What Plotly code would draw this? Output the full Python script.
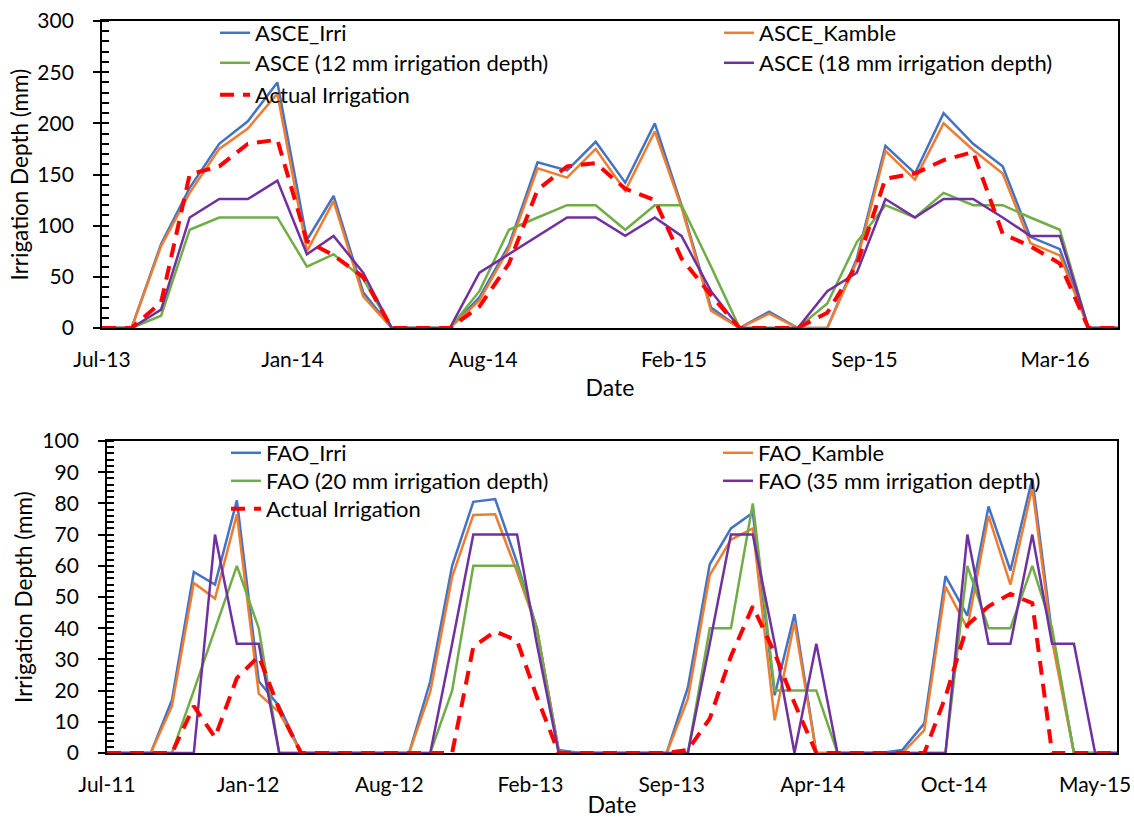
import pandas as pd
import plotly.graph_objects as go

# ---------------- data ----------------
top_dates = pd.date_range("2013-07-01", periods=36, freq="MS")
asce_irri = [0, 0, 82, 137, 180, 202, 240, 86, 129, 35, 0, 0,
             0, 30, 81, 162, 154, 182, 142, 200, 120, 20, 0, 16,
             0, 0, 68, 178, 151, 210, 180, 158, 89, 77, 0, 0]
asce_kamble = [0, 0, 80, 132, 175, 195, 229, 75, 124, 31, 0, 0,
               0, 27, 78, 156, 147, 175, 134, 192, 118, 17, 0, 14,
               0, 0, 65, 173, 145, 200, 174, 151, 83, 71, 0, 0]
asce_12mm = [0, 0, 12, 96, 108, 108, 108, 60, 72, 48, 0, 0,
             0, 36, 96, 108, 120, 120, 96, 120, 120, 60, 0, 0,
             0, 24, 84, 120, 108, 132, 120, 120, 108, 96, 0, 0]
asce_18mm = [0, 0, 18, 108, 126, 126, 144, 72, 90, 54, 0, 0,
             0, 54, 72, 90, 108, 108, 90, 108, 90, 36, 0, 0,
             0, 36, 54, 126, 108, 126, 126, 108, 90, 90, 0, 0]
actual_top = [0, 0, 25, 150, 158, 180, 184, 85, 71, 50, 0, 0,
              0, 21, 63, 135, 158, 161, 136, 125, 68, 32, 0, 0,
              0, 15, 62, 146, 151, 164, 172, 92, 80, 63, 0, 0]

bot_dates = pd.date_range("2011-07-01", periods=48, freq="MS") + pd.Timedelta(days=5)
fao_irri = [0, 0, 0, 17, 58, 54, 81, 23, 15, 0,
            0, 0, 0, 0, 0, 23, 60, 80.5, 81.4, 61, 40, 1,
            0, 0, 0, 0, 0, 21, 60.5, 72, 77, 18.5, 44.5, 0,
            0, 0, 0, 1, 9.5, 56.7, 44, 79, 58.5, 88, 38, 0,
            0, 0]
fao_kamble = [0, 0, 0, 15, 54.5, 49.5, 76.5, 19, 13, 0,
              0, 0, 0, 0, 0, 19.6, 56.5, 76.3, 76.5, 58, 40, 0.5,
              0, 0, 0, 0, 0, 17.4, 57, 68.4, 72, 10.5, 42, 0,
              0, 0, 0, 0, 7.3, 53.3, 40, 76, 54, 85, 36, 0,
              0, 0]
fao_20mm = [0, 0, 0, 0, 20, 40, 60, 40, 0, 0,
            0, 0, 0, 0, 0, 0, 20, 60, 60, 60, 40, 0,
            0, 0, 0, 0, 0, 0, 40, 40, 80, 20, 20, 20,
            0, 0, 0, 0, 0, 0, 60, 40, 40, 60, 40, 0,
            0, 0]
fao_35mm = [0, 0, 0, 0, 0, 70, 35, 35, 0, 0,
            0, 0, 0, 0, 0, 0, 35, 70, 70, 70, 35, 0,
            0, 0, 0, 0, 0, 0, 35, 70, 70, 35, 0, 35,
            0, 0, 0, 0, 0, 0, 70, 35, 35, 70, 35, 35,
            0, 0]
actual_bot = [0, 0, 0, 0, 15, 5, 24, 31, 14, 0,
              0, 0, 0, 0, 0, 0, 0, 34, 39, 36, 18, 0,
              0, 0, 0, 0, 0, 1, 11, 31, 47, 32, 16, 0,
              0, 0, 0, 0, 0, 18, 41, 47, 51, 48, 0, 0,
              0, 0]

top_names = ["ASCE_Irri", "ASCE_Kamble", "ASCE (12 mm irrigation depth)",
             "ASCE (18 mm irrigation depth)", "Actual Irrigation"]
bot_names = ["FAO_Irri", "FAO_Kamble", "FAO (20 mm irrigation depth)",
             "FAO (35 mm irrigation depth)", "Actual Irrigation"]
y_title = "Irrigation Depth (mm)"
x_title = "Date"

colors = ["#4472C4", "#ED7D31", "#70AD47", "#7030A0", "#FF0000"]

# ---------------- figure ----------------
W, H = 1134, 818
FONT = "Lato"
fig = go.Figure()

top_series = [asce_irri, asce_kamble, asce_12mm, asce_18mm, actual_top]
bot_series = [fao_irri, fao_kamble, fao_20mm, fao_35mm, actual_bot]


def line_style(i):
    if i == 4:
        return dict(color=colors[i], width=4, dash="14px,9px")
    return dict(color=colors[i], width=2.5)


for i, (name, ys) in enumerate(zip(top_names, top_series)):
    fig.add_trace(go.Scatter(x=top_dates, y=ys, mode="lines", name=name,
                             line=line_style(i), xaxis="x", yaxis="y",
                             showlegend=True,
                             legend="legend" if i == 0 else f"legend{i+1}"))
for i, (name, ys) in enumerate(zip(bot_names, bot_series)):
    fig.add_trace(go.Scatter(x=bot_dates, y=ys, mode="lines", name=name,
                             line=line_style(i), xaxis="x2", yaxis="y2",
                             showlegend=True,
                             legend=f"legend{i+6}"))

# legend positions (text start x, row centre y) in pixels
top_leg = [(257, 33), (761, 33), (257, 63), (761, 63), (257, 95)]
bot_leg = [(268, 453), (760, 453), (268, 481), (760, 481), (268, 509)]
legends = {}
for k, (tx, ty) in enumerate(top_leg + bot_leg):
    key = "legend" if k == 0 else f"legend{k+1}"
    legends[key] = dict(x=(tx - 42) / W, y=1 - ty / H, xanchor="left", yanchor="middle",
                        bgcolor="rgba(0,0,0,0)", borderwidth=0, visible=True,
                        font=dict(family=FONT, size=22, color="black"))

axis_common = dict(showline=True, linecolor="black", linewidth=1.8, mirror=True,
                   showgrid=False, zeroline=False, automargin=False,
                   tickfont=dict(family=FONT, size=21, color="black"))


def xaxis(domain, dates, anchor):
    return dict(axis_common, domain=domain, type="date", anchor=anchor,
                range=[dates[0], dates[-1]], tick0=dates[0], dtick=200 * 86400000,
                tickformat="%b-%y", ticks="", ticklabelstandoff=12,
                layer="below traces",
                title=dict(text=x_title, font=dict(family=FONT, size=23, color="black"), standoff=10))


def yaxis(domain, rng, dt, mdt, anchor):
    return dict(axis_common, domain=domain, anchor=anchor, range=rng, dtick=dt,
                ticks="outside", ticklen=7, tickwidth=1.5, tickcolor="black",
                ticklabelstandoff=15, layer="below traces",
                minor=dict(dtick=mdt, ticks="inside", ticklen=7, tickwidth=1.5, tickcolor="black"))


title_font = dict(family=FONT, size=22.5, color="black")
fig.update_layout(
    width=W, height=H, margin=dict(l=0, r=0, t=0, b=0, autoexpand=False),
    paper_bgcolor="white", plot_bgcolor="white", showlegend=True,
    font=dict(family=FONT, color="black"),
    xaxis=xaxis([102 / W, 1118 / W], top_dates, "y"),
    yaxis=yaxis([1 - 328 / H, 1 - 21 / H], [0, 300], 50, 10, "x"),
    xaxis2=xaxis([107 / W, 1117 / W], bot_dates, "y2"),
    yaxis2=yaxis([1 - 753 / H, 1 - 441 / H], [0, 100], 10, 2, "x2"),
    annotations=[
        dict(text=y_title, xref="paper", yref="paper", x=19 / W, y=1 - 174.5 / H,
             xanchor="center", yanchor="middle", textangle=-90, showarrow=False, font=title_font),
        dict(text=y_title, xref="paper", yref="paper", x=23 / W, y=1 - 597 / H,
             xanchor="center", yanchor="middle", textangle=-90, showarrow=False, font=title_font),
    ],
    **legends,
)

fig.write_html("out.html", config={"displayModeBar": False},
               post_script="document.body.style.margin='0';")
